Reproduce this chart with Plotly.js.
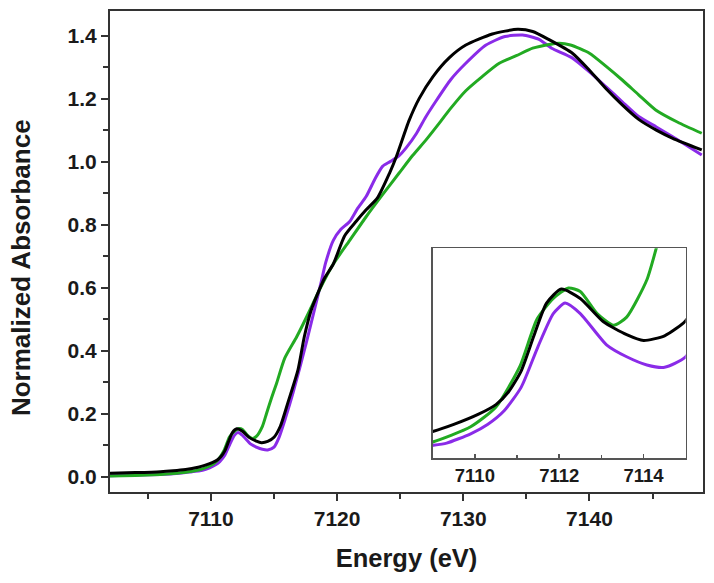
<!DOCTYPE html>
<html>
<head>
<meta charset="utf-8">
<script src="https://cdn.plot.ly/plotly-3.0.1.min.js"></script>
<style>html,body{margin:0;padding:0;background:#fff;}#chart{width:714px;height:583px;}</style>
</head>
<body>
<div id="chart"></div>
<script>
// Black series
var blackEnergy = [7102,7104,7106,7107,7108,7108.5,7109.0,7109.5,7110.1,7110.5,7110.8,7111.1,7111.4,7111.7,7112.05,7112.5,7113.05,7113.6,7114.0,7114.5,7115.0,7115.5,7116.1,7116.9,7117.4,7117.95,7118.5,7119.0,7119.7,7120.6,7121.5,7122.3,7123.2,7124.15,7124.7,7125.7,7126.5,7127.6,7128.9,7130.2,7132.3,7134.3,7135.5,7136.8,7138.65,7140,7141.3,7142.6,7143.9,7145.3,7146.6,7148.9];
var blackAbs = [0.011,0.013,0.016,0.019,0.023,0.026,0.030,0.036,0.045,0.053,0.064,0.082,0.112,0.140,0.152,0.144,0.124,0.113,0.108,0.112,0.125,0.16,0.235,0.339,0.444,0.529,0.585,0.63,0.675,0.765,0.81,0.847,0.885,0.963,1.016,1.13,1.20,1.27,1.33,1.37,1.405,1.420,1.413,1.387,1.344,1.29,1.232,1.18,1.134,1.10,1.074,1.037];
// Purple series
var purpleEnergy = [7102,7104,7106,7107,7108,7108.5,7109.0,7109.33,7109.9,7110.3,7110.7,7111.1,7111.5,7111.86,7112.14,7112.5,7113.13,7113.6,7114.08,7114.5,7115.0,7115.4,7115.9,7116.5,7117.55,7118.2,7118.75,7119.1,7119.7,7120.3,7121.0,7121.6,7122.3,7123.0,7123.6,7124.2,7124.9,7125.5,7126.3,7127.0,7127.8,7129.0,7130.2,7131.8,7133.3,7134.7,7136.0,7137.0,7138.6,7140.0,7141.3,7142.6,7143.9,7145.3,7146.6,7148.9];
var purpleAbs = [0.003,0.005,0.007,0.009,0.013,0.016,0.018,0.020,0.028,0.036,0.048,0.068,0.103,0.131,0.140,0.131,0.104,0.094,0.087,0.085,0.094,0.125,0.185,0.265,0.424,0.529,0.62,0.68,0.75,0.785,0.81,0.85,0.889,0.945,0.985,1.0,1.018,1.045,1.09,1.14,1.19,1.26,1.312,1.37,1.397,1.402,1.388,1.36,1.33,1.285,1.238,1.19,1.143,1.11,1.079,1.021];
// Green series
var greenEnergy = [7102,7104,7106,7107,7108,7108.5,7109.0,7109.9,7110.5,7111.07,7111.47,7111.86,7112.22,7112.5,7112.9,7113.29,7113.6,7114.08,7114.4,7114.8,7115.2,7115.85,7116.8,7117.85,7118.6,7119.7,7121.0,7122.3,7123.6,7124.9,7126.0,7127.05,7128.1,7128.9,7130.2,7131.5,7132.85,7134.2,7135.5,7136.8,7137.6,7138.5,7140,7141.3,7142.6,7143.9,7145.25,7147,7148.9];
var greenAbs = [0.002,0.004,0.007,0.010,0.014,0.017,0.021,0.034,0.051,0.086,0.126,0.144,0.153,0.150,0.131,0.121,0.128,0.160,0.20,0.25,0.296,0.376,0.444,0.529,0.593,0.675,0.75,0.825,0.895,0.963,1.02,1.069,1.122,1.164,1.225,1.27,1.312,1.336,1.36,1.372,1.376,1.37,1.344,1.303,1.259,1.212,1.164,1.125,1.09];

var mainXTicks = [7110,7120,7130,7140];
var mainYTicks = [0.0,0.2,0.4,0.6,0.8,1.0,1.2,1.4];
var insetXTicks = [7110,7112,7114];
var xTitle = 'Energy (eV)';
var yTitle = 'Normalized Absorbance';

var cPurple = '#8a2be8', cGreen = '#22aa22', cBlack = '#000000';
function tr(x, y, c, xa, ya, w) {
  return {x: x, y: y, type: 'scatter', mode: 'lines', xaxis: xa, yaxis: ya,
    line: {color: c, width: w, shape: 'spline', smoothing: 0.6}, hoverinfo: 'skip', showlegend: false};
}
var data = [
  tr(purpleEnergy, purpleAbs, cPurple, 'x', 'y', 3),
  tr(greenEnergy, greenAbs, cGreen, 'x', 'y', 3),
  tr(blackEnergy, blackAbs, cBlack, 'x', 'y', 3),
  tr(purpleEnergy, purpleAbs, cPurple, 'x2', 'y2', 3),
  tr(greenEnergy, greenAbs, cGreen, 'x2', 'y2', 3),
  tr(blackEnergy, blackAbs, cBlack, 'x2', 'y2', 3)
];
var fam = 'Liberation Sans, Arial, sans-serif';
var layout = {
  width: 714, height: 583,
  margin: {l: 110, r: 11, t: 11, b: 91},
  paper_bgcolor: '#fff', plot_bgcolor: '#fff',
  font: {family: fam, color: '#1a1a1a'},
  xaxis: {
    domain: [0, 1], range: [7102, 7149], tickvals: mainXTicks, ticktext: mainXTicks.map(String),
    ticks: 'outside', ticklen: 7, tickwidth: 2, tickcolor: '#333',
    minor: {dtick: 5, tick0: 7100, ticks: 'outside', ticklen: 5, tickwidth: 2, tickcolor: '#333'},
    showline: true, linewidth: 2, linecolor: '#333', mirror: true, showgrid: false, zeroline: false,
    tickfont: {size: 21, family: fam, color: '#1a1a1a', weight: 'bold'},
    title: {text: '<b>' + xTitle + '</b>', font: {size: 25.5, family: fam, color: '#1a1a1a'}, standoff: 20}
  },
  yaxis: {
    domain: [0, 1], range: [-0.0486, 1.478], tickvals: mainYTicks, ticktext: mainYTicks.map(function(v){return v.toFixed(1);}),
    ticks: 'outside', ticklen: 7, tickwidth: 2, tickcolor: '#333',
    minor: {dtick: 0.2, tick0: 0.1, ticks: 'outside', ticklen: 5, tickwidth: 2, tickcolor: '#333'},
    showline: true, linewidth: 2, linecolor: '#333', mirror: true, showgrid: false, zeroline: false,
    tickfont: {size: 21, family: fam, color: '#1a1a1a', weight: 'bold'},
    title: {text: ''}
  },
  xaxis2: {
    domain: [0.5442, 0.9708], anchor: 'y2', range: [7109, 7115], tickvals: insetXTicks, ticktext: insetXTicks.map(String),
    ticks: 'inside', ticklen: 4, tickwidth: 1.5, tickcolor: '#555',
    minor: {dtick: 1, tick0: 7109, ticks: 'inside', ticklen: 3, tickwidth: 1.5, tickcolor: '#555'},
    showline: true, linewidth: 1.5, linecolor: '#555', mirror: true, showgrid: false, zeroline: false,
    tickfont: {size: 18.5, family: fam, color: '#1a1a1a', weight: 'bold'}
  },
  yaxis2: {
    domain: [0.0701, 0.5067], anchor: 'x2', range: [0.007, 0.187],
    showticklabels: false, ticks: '',
    showline: true, linewidth: 1.5, linecolor: '#555', mirror: true, showgrid: false, zeroline: false
  },
  annotations: [{
    text: '<b>' + yTitle + '</b>', textangle: -90, xref: 'paper', yref: 'paper',
    x: -0.150, y: 0.4657, xanchor: 'center', yanchor: 'middle', showarrow: false,
    font: {size: 26, family: fam, color: '#1a1a1a'}
  }]
};
Plotly.newPlot('chart', data, layout, {staticPlot: true, displayModeBar: false});
</script>
</body>
</html>
